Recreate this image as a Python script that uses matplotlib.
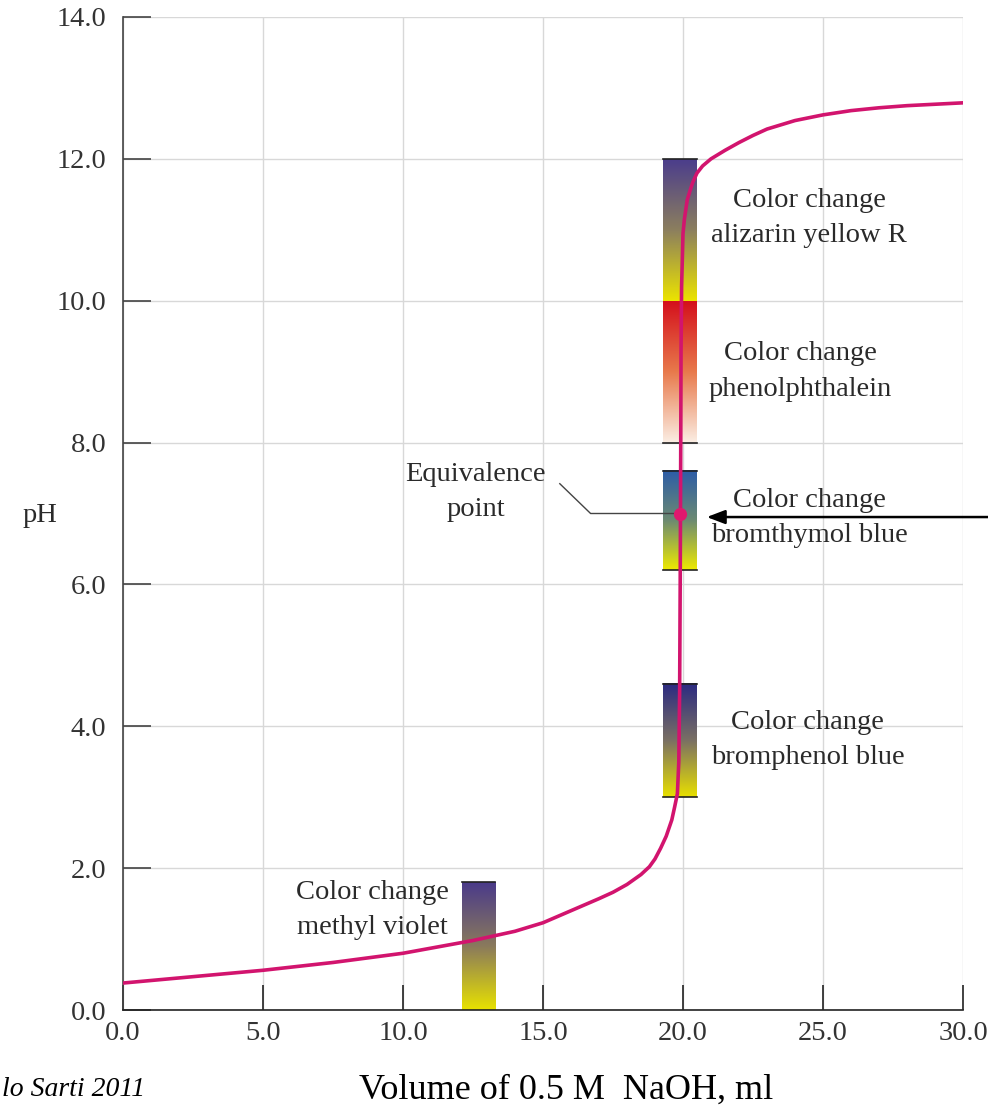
import numpy as np
import matplotlib
matplotlib.use("Agg")
import matplotlib.pyplot as plt
from matplotlib.colors import LinearSegmentedColormap

plt.rcParams['font.family'] = ['Liberation Serif', 'DejaVu Serif']

# titration curve (ml NaOH, pH)
volume = [0, 2.5, 5, 7.5, 10, 12.5, 14, 15, 16, 17, 17.5, 18, 18.5, 18.8,
          19.0, 19.2, 19.4, 19.6, 19.7, 19.8, 19.85, 19.88, 19.9, 19.91,
          19.92, 19.93, 19.95, 20.0, 20.05, 20.15, 20.25, 20.35, 20.5, 20.7,
          21.0, 21.5, 22, 22.5, 23, 24, 25, 26, 27, 28, 29, 30]
ph = [0.38, 0.47, 0.56, 0.67, 0.80, 0.98, 1.11, 1.23, 1.40, 1.57, 1.66, 1.77,
      1.91, 2.02, 2.13, 2.28, 2.45, 2.68, 2.86, 3.05, 3.5, 4.5, 6.0, 7.0,
      8.0, 9.3, 10.2, 10.95, 11.15, 11.42, 11.55, 11.67, 11.8, 11.9,
      12.0, 12.12, 12.23, 12.33, 12.42, 12.54, 12.62, 12.68, 12.72, 12.75,
      12.77, 12.79]

equiv_vol = 19.9
equiv_ph = 7.0

# indicator ranges
ind_names = ['alizarin yellow R', 'phenolphthalein', 'bromthymol blue',
             'bromphenol blue', 'methyl violet']
ind_low = [10.0, 8.0, 6.2, 3.0, 0.0]
ind_high = [12.0, 10.0, 7.6, 4.6, 1.8]
ind_vol = [19.9, 19.9, 19.9, 19.9, 12.7]   # centre of the colour bar

# colours of each bar: top, middle, bottom
ind_colors = [
    ['#4b3d8c', '#8c7f5e', '#ece400'],
    ['#d4101c', '#e87a4c', '#fbeee4'],
    ['#2c5ca8', '#6c8a72', '#eeea00'],
    ['#2b2a82', '#7a7064', '#e8e000'],
    ['#4a3a8a', '#8a7a5c', '#e8e200'],
]
label_pos = [(24.5, 11.17), (24.2, 9.0), (24.5, 6.94), (24.45, 3.81), (8.9, 1.41)]

fs = 20.5

fig = plt.figure(figsize=(9.88, 11.09), dpi=100)
ax = fig.add_axes([123 / 988, 1 - 1010 / 1109, 840 / 988, 993 / 1109])

ax.set_xlim(0, 30)
ax.set_ylim(0, 14)
ax.set_xticks(np.arange(0, 31, 5))
ax.set_yticks(np.arange(0, 15, 2))
ax.set_xticklabels(['%.1f' % v for v in np.arange(0, 31, 5)])
ax.set_yticklabels(['%.1f' % v for v in np.arange(0, 15, 2)])
ax.grid(color='#d8d8d8', lw=1)
ax.set_axisbelow(True)
for s in ['top', 'right']:
    ax.spines[s].set_visible(False)
ax.spines['left'].set_color('#444444')
ax.spines['bottom'].set_color('#222222')
ax.spines['left'].set_linewidth(1.2)
ax.spines['bottom'].set_linewidth(1.2)
ax.tick_params(axis='y', direction='in', length=20, width=1.2, color='#444444',
               labelsize=fs, labelcolor='#333333', pad=12)
ax.tick_params(axis='x', direction='in', length=18, width=1.2, color='#222222',
               labelsize=fs, labelcolor='#333333', pad=8)

grad = np.linspace(0, 1, 256).reshape(-1, 1)
bounds = set(ind_low) & set(ind_high)
for i in range(len(ind_names)):
    cmap = LinearSegmentedColormap.from_list('c%d' % i, ind_colors[i][::-1])
    x0, x1 = ind_vol[i] - 0.6, ind_vol[i] + 0.6
    ax.imshow(grad, cmap=cmap, extent=[x0, x1, ind_low[i], ind_high[i]],
              origin='lower', aspect='auto', zorder=2)
    for yv in (ind_low[i], ind_high[i]):
        if yv not in bounds and yv > 0:
            ax.plot([x0, x1], [yv, yv], color='#222222', lw=1.2, zorder=3)
    ax.text(label_pos[i][0], label_pos[i][1], 'Color change\n' + ind_names[i],
            ha='center', va='center', fontsize=fs, color='#2a2a2a',
            linespacing=1.55, zorder=4)

ax.set_xlim(0, 30)
ax.set_ylim(0, 14)

ax.plot(volume, ph, color='#d2146e', lw=2.6, zorder=5, solid_capstyle='round',
        solid_joinstyle='round')
ax.plot(equiv_vol, equiv_ph, 'o', color='#e0186e', ms=8.5, zorder=6)

# equivalence point label with leader line
ax.text(12.6, 7.3, 'Equivalence\npoint', ha='center', va='center',
        fontsize=fs, color='#2a2a2a', linespacing=1.55)
ax.plot([15.6, 16.7, equiv_vol], [7.42, 7.0, 7.0], color='#444444', lw=1, zorder=4)

# arrow coming in from the right edge
ax.annotate('', xy=(20.75, 6.95), xytext=(31.3, 6.95),
            arrowprops=dict(arrowstyle='-|>,head_length=1.1,head_width=0.42',
                            color='black', lw=1.8),
            annotation_clip=False, zorder=7)

fig.text(40 / 988, 1 - 515 / 1109, 'pH', ha='center', va='center',
         fontsize=fs, color='#2a2a2a')
fig.text(566 / 988, 1 - 1090 / 1109, 'Volume of 0.5 M  NaOH, ml',
         ha='center', va='center', fontsize=26, color='black')
fig.text(2 / 988, 1 - 1090 / 1109, 'lo Sarti 2011', ha='left',
         va='center', fontsize=20, style='italic', color='black')

fig.savefig('out.png', dpi=100)
